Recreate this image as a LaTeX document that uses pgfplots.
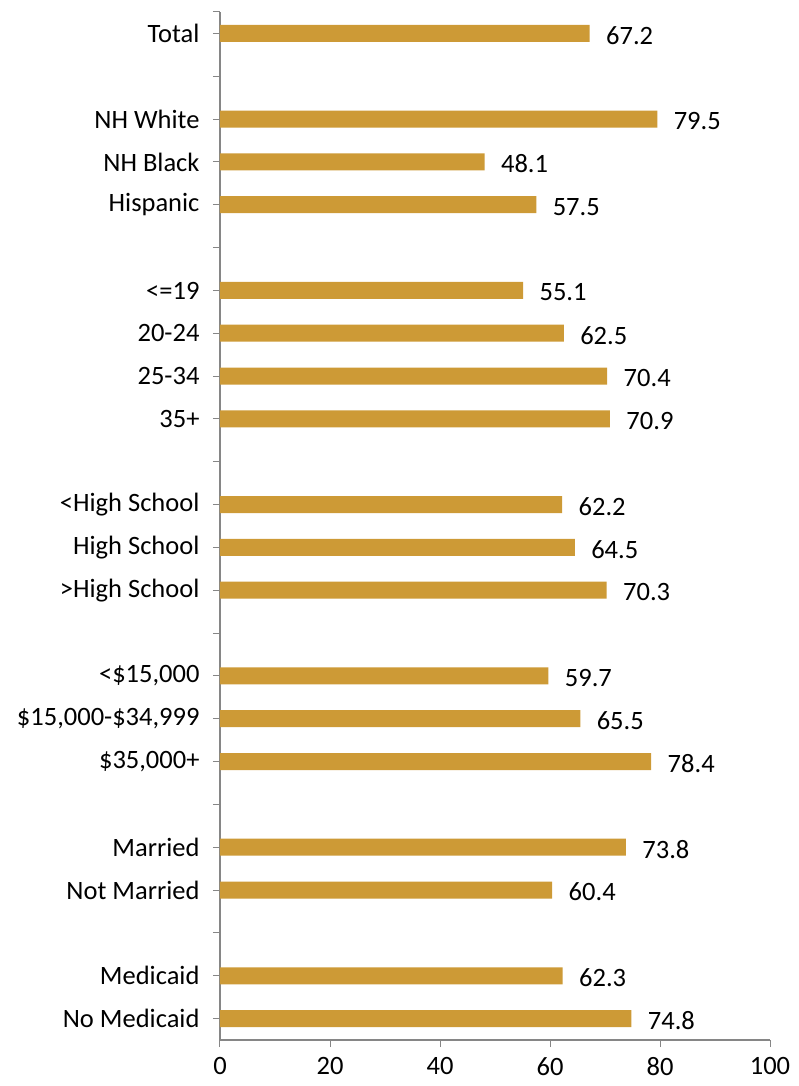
\documentclass[border=0pt]{standalone}
\usepackage{pgfplots}
\pgfplotsset{compat=1.18}
\usepackage{fontspec}
\setmainfont{Carlito}
\definecolor{bargold}{RGB}{205,154,54}
\definecolor{axgray}{RGB}{134,134,134}
\begin{document}
\begin{tikzpicture}
\path[use as bounding box] (-220pt,-46pt) rectangle (578pt,1040pt);
\begin{axis}[
  scale only axis,
  width=550pt, height=1028pt,
  at={(0,0)}, anchor=south west,
  xbar,
  bar width=17pt,
  xmin=0, xmax=100,
  ymin=-0.5, ymax=23.5,
  xtick={0,20,40,60,80,100},
  ytick={0,...,23},
  extra y ticks={23.5},
  extra y tick labels={},
  yticklabels={{No Medicaid},{Medicaid},{},{Not Married},{Married},{},{\$35,000+},{\$15,000-\$34,999},{<\$15,000},{},{>High School},{High School},{<High School},{},{35+},{25-34},{20-24},{<=19},{},{Hispanic},{NH Black},{NH White},{},{Total}},
  axis lines*=left,
  axis line style={axgray, line width=1.2pt},
  tick style={axgray, line width=1pt},
  tick align=outside,
  major tick length=7pt,
  /pgf/number format/assume math mode=true,
  tick label style={font=\fontsize{26.5}{30}\selectfont, text=black},
  yticklabel style={xshift=-10pt},
  xticklabel style={yshift=-9pt, inner sep=1pt},
  point meta=x,
  nodes near coords={\pgfmathprintnumber[fixed,fixed zerofill,precision=1,assume math mode=true]{\pgfplotspointmeta}},
  every node near coord/.append style={font=\fontsize{26.5}{30}\selectfont, text=black, anchor=west, xshift=13pt, yshift=-2pt},
]
\addplot[fill=bargold, draw=none] coordinates {
  (74.8,0) (62.3,1)
  (60.4,3) (73.8,4)
  (78.4,6) (65.5,7) (59.7,8)
  (70.3,10) (64.5,11) (62.2,12)
  (70.9,14) (70.4,15) (62.5,16) (55.1,17)
  (57.5,19) (48.1,20) (79.5,21)
  (67.2,23)
};
\end{axis}
\end{tikzpicture}
\end{document}
